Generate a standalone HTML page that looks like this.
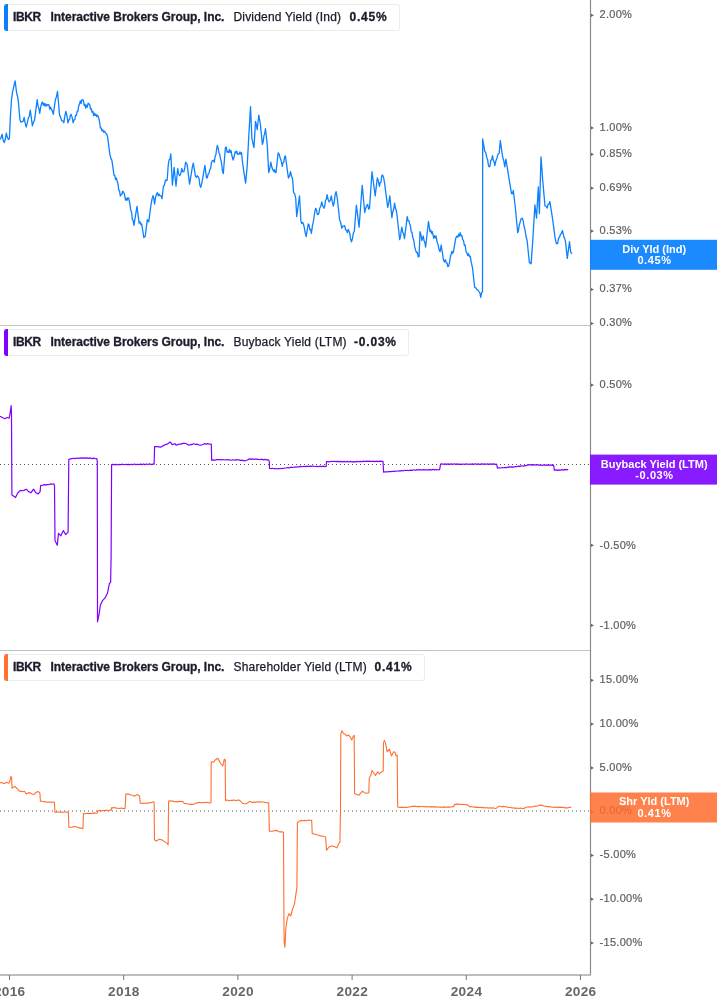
<!DOCTYPE html>
<html><head><meta charset="utf-8"><title>IBKR yields</title>
<style>
html,body{margin:0;padding:0;background:#fff;}
body{width:717px;height:1005px;position:relative;overflow:hidden;font-family:"Liberation Sans",Arial,sans-serif;}
.ch{position:absolute;left:0;top:0;}
.yl{font-family:"Liberation Sans",Arial,sans-serif;font-size:11px;fill:#5e5e5e;stroke:#5e5e5e;stroke-width:0.2px;letter-spacing:0.3px;}
.xl{font-family:"Liberation Sans",Arial,sans-serif;font-size:12.5px;font-weight:bold;fill:#666;letter-spacing:0.3px;}
.lg{position:absolute;left:4px;height:25px;border:1px solid #ececec;border-left:none;border-radius:0 3px 3px 0;background:rgba(255,255,255,0.9);font-size:12px;line-height:25px;color:#1b1b2b;white-space:nowrap;}
.lg .bar{position:absolute;left:0;top:-1px;width:4px;height:27px;border-radius:3px 0 0 3px;}
.lg span{position:absolute;top:0;}
.tk,.nm,.vl{-webkit-text-stroke:0.3px #1b1b2b;}
.tk{left:9px;font-weight:bold;letter-spacing:-0.4px;}
.nm{left:46.5px;font-weight:bold;letter-spacing:-0.05px;}
.mt{left:229.5px;letter-spacing:0.18px;-webkit-text-stroke:0.25px #1b1b2b;}
.vl{font-weight:bold;letter-spacing:0.8px;}
.lb{position:absolute;left:590px;width:127px;height:30px;color:#fff;font-weight:bold;font-size:11px;line-height:11.2px;text-align:center;padding-top:4px;padding-left:1.4px;box-sizing:border-box;}
.lb div+div{letter-spacing:0.6px;padding-left:0.6px;}
</style></head><body>
<svg class="ch" width="717" height="1005" viewBox="0 0 717 1005">
<path d="M0,325.5 H590 M0,650.5 H590" stroke="#c4c4c4" stroke-width="1" fill="none"/>
<path d="M0,464.5 H590" stroke="#555" stroke-width="1" stroke-dasharray="1 3" fill="none"/>
<path d="M0,811 H590" stroke="#555" stroke-width="1" stroke-dasharray="1 3" fill="none"/>
<path d="M0.00,139.50 L1.05,137.69 L2.10,134.30 L3.15,140.24 L4.20,142.60 L5.25,139.57 L6.30,133.20 L7.35,137.31 L8.40,139.50 L9.40,138.50 L10.50,114.40 L11.50,99.70 L12.55,92.16 L13.60,87.20 L15.10,80.90 L16.70,93.50 L17.55,96.42 L18.40,101.80 L19.90,119.60 L20.95,122.16 L22.00,121.70 L23.05,121.30 L24.10,117.50 L25.15,122.98 L26.20,127.00 L27.20,123.44 L28.20,118.60 L29.25,116.17 L30.30,110.20 L32.40,125.90 L33.45,122.09 L34.50,120.70 L37.20,99.70 L38.03,105.90 L38.87,108.16 L39.70,113.30 L40.75,106.88 L41.80,102.90 L42.60,102.06 L43.40,105.37 L44.20,103.30 L45.00,106.00 L45.77,103.89 L46.55,106.14 L47.33,104.61 L48.10,105.00 L48.90,104.69 L49.70,109.01 L50.50,107.02 L51.30,109.20 L52.30,110.90 L53.30,114.40 L55.40,99.70 L56.45,96.74 L57.50,91.40 L59.60,115.40 L60.65,117.41 L61.70,120.70 L62.75,120.84 L63.80,122.80 L64.85,115.84 L65.90,111.30 L66.95,115.76 L68.00,122.80 L68.78,119.77 L69.55,119.52 L70.32,115.59 L71.10,114.40 L72.15,117.36 L73.20,122.80 L74.00,119.94 L74.80,119.73 L75.60,115.48 L76.40,115.40 L77.18,111.15 L77.95,111.15 L78.72,105.91 L79.50,103.90 L80.28,100.86 L81.05,103.60 L81.82,99.98 L82.60,99.70 L83.40,100.73 L84.20,105.51 L85.00,104.40 L85.80,108.10 L86.58,105.14 L87.35,107.19 L88.12,103.19 L88.90,103.90 L89.70,104.46 L90.50,109.12 L91.30,108.78 L92.10,112.30 L92.88,111.24 L93.65,115.63 L94.42,113.32 L95.20,115.40 L95.97,114.25 L96.75,116.60 L97.53,115.29 L98.30,116.50 L99.35,120.53 L100.40,128.00 L101.20,127.87 L102.00,130.94 L102.80,129.78 L103.60,132.20 L104.60,131.12 L105.60,133.20 L106.65,133.76 L107.70,137.40 L109.80,154.10 L110.85,158.37 L111.90,160.40 L114.00,175.10 L114.80,175.44 L115.60,179.51 L116.40,178.06 L117.20,181.30 L117.97,183.65 L118.75,189.80 L119.53,191.04 L120.30,196.00 L121.08,194.31 L121.85,194.56 L122.62,191.27 L123.40,191.80 L124.45,194.02 L125.50,200.20 L126.30,198.24 L127.10,200.30 L127.90,197.79 L128.70,198.10 L129.75,203.05 L130.80,210.60 L131.58,212.30 L132.35,219.63 L133.12,220.27 L133.90,225.30 L137.00,206.40 L139.10,223.20 L140.00,221.80 L140.85,224.65 L141.70,223.90 L143.80,237.50 L145.20,236.40 L147.30,219.70 L148.80,221.80 L150.90,205.10 L151.95,199.42 L153.00,195.60 L153.80,198.48 L154.60,204.00 L155.65,196.87 L156.70,193.60 L157.50,192.69 L158.30,195.84 L159.10,194.12 L159.90,195.60 L160.95,195.83 L162.00,198.80 L163.40,186.20 L164.45,185.04 L165.50,180.00 L166.35,180.61 L167.20,180.00 L168.20,165.30 L169.07,159.77 L169.93,159.38 L170.80,153.80 L172.40,185.20 L174.10,167.40 L176.00,186.20 L177.70,168.50 L178.70,173.99 L179.70,175.80 L180.75,173.79 L181.80,168.50 L182.85,171.78 L183.90,171.60 L184.75,168.23 L185.60,162.20 L187.10,164.30 L189.60,184.10 L191.30,173.70 L192.30,167.06 L193.30,163.20 L195.40,175.80 L196.33,177.33 L197.27,175.79 L198.20,176.80 L199.03,178.48 L199.87,185.20 L200.70,187.30 L201.75,183.48 L202.80,177.90 L204.90,165.30 L206.50,177.90 L207.33,177.81 L208.17,173.82 L209.00,173.70 L209.80,169.45 L210.60,168.48 L211.40,162.90 L212.20,161.10 L213.25,160.18 L214.30,162.20 L215.08,156.54 L215.85,155.04 L216.62,148.96 L217.40,145.40 L218.18,147.88 L218.95,153.05 L219.72,154.18 L220.50,159.00 L221.43,162.09 L222.37,170.52 L223.30,173.70 L225.40,147.50 L226.23,147.18 L227.07,152.04 L227.90,151.70 L228.68,152.41 L229.45,149.42 L230.22,152.49 L231.00,150.70 L232.05,156.12 L233.10,160.10 L234.15,156.52 L235.20,151.70 L235.97,152.85 L236.75,151.09 L237.53,154.22 L238.30,153.80 L239.10,154.30 L239.90,151.83 L240.70,154.13 L241.50,152.80 L242.90,165.30 L245.60,183.10 L247.10,167.40 L248.80,136.00 L250.50,106.70 L251.90,138.10 L252.95,143.50 L254.00,147.50 L255.50,121.40 L256.35,124.73 L257.20,129.70 L258.80,115.10 L260.30,123.50 L262.40,144.40 L263.17,141.81 L263.95,135.71 L264.73,133.61 L265.50,128.70 L267.20,144.40 L268.70,172.60 L269.75,169.00 L270.80,162.20 L271.80,167.09 L272.80,169.50 L273.60,171.33 L274.40,169.79 L275.20,172.46 L276.00,172.60 L278.10,152.80 L279.15,154.26 L280.20,158.00 L281.25,161.01 L282.30,166.40 L283.07,162.91 L283.85,161.90 L284.62,156.67 L285.40,155.90 L288.40,178.00 L289.45,176.16 L290.50,171.70 L291.55,176.24 L292.60,179.00 L293.60,192.60 L294.65,193.80 L295.70,197.90 L296.70,216.70 L299.50,195.80 L300.90,220.90 L301.73,223.68 L302.57,222.34 L303.40,224.00 L304.33,227.57 L305.27,233.21 L306.20,236.60 L308.20,224.00 L309.00,224.74 L309.80,229.52 L310.60,229.46 L311.40,233.40 L312.45,225.60 L313.50,220.90 L314.55,213.24 L315.60,208.30 L316.43,209.49 L317.27,214.47 L318.10,214.60 L318.90,213.17 L319.70,208.30 L320.75,206.47 L321.80,202.00 L322.85,206.06 L323.90,208.30 L324.70,206.41 L325.50,200.35 L326.30,199.51 L327.10,194.70 L328.15,199.40 L329.20,202.00 L330.25,200.38 L331.30,195.80 L332.30,201.68 L333.30,206.20 L334.23,202.35 L335.17,194.51 L336.10,191.60 L337.50,200.00 L339.60,219.80 L340.65,222.17 L341.70,228.20 L342.75,226.12 L343.80,226.10 L344.70,225.70 L345.60,229.93 L346.50,230.30 L347.33,232.55 L348.17,229.33 L349.00,231.30 L349.83,233.62 L350.67,239.25 L351.50,241.80 L352.43,238.91 L353.37,232.97 L354.30,231.30 L356.40,205.20 L359.10,227.20 L362.20,185.30 L364.70,212.50 L365.75,208.20 L366.80,205.20 L367.70,204.49 L368.60,209.21 L369.50,208.30 L372.00,171.70 L375.20,195.80 L377.30,178.00 L378.35,180.80 L379.40,186.40 L380.17,182.68 L380.95,182.46 L381.73,175.81 L382.50,174.90 L383.55,177.46 L384.60,183.20 L387.70,207.30 L388.75,202.86 L389.80,195.80 L391.90,217.70 L392.80,211.70 L393.70,209.05 L394.60,203.10 L395.47,208.52 L396.33,210.62 L397.20,216.70 L399.70,239.70 L400.75,234.66 L401.80,227.20 L402.70,231.91 L403.60,234.12 L404.50,238.70 L407.20,216.70 L408.03,220.67 L408.87,220.55 L409.70,224.00 L410.48,226.10 L411.25,231.86 L412.02,232.38 L412.80,237.60 L413.73,239.94 L414.67,246.63 L415.60,250.20 L416.48,252.63 L417.35,252.24 L418.23,256.83 L419.10,256.40 L420.00,231.60 L420.90,234.35 L421.80,240.50 L423.30,236.00 L424.07,240.81 L424.83,242.57 L425.60,247.20 L428.50,221.50 L430.00,231.60 L430.77,230.06 L431.53,233.37 L432.30,231.60 L433.80,238.30 L434.57,235.63 L435.33,237.85 L436.10,236.00 L437.00,241.79 L437.90,243.90 L439.00,249.36 L440.10,251.70 L441.20,245.00 L443.40,259.50 L444.37,261.88 L445.33,259.72 L446.30,262.80 L447.07,263.00 L447.83,266.68 L448.60,266.20 L449.47,262.82 L450.33,257.16 L451.20,253.90 L451.97,251.29 L452.73,253.33 L453.50,251.70 L455.70,238.30 L456.80,236.09 L457.90,237.20 L458.67,234.26 L459.43,235.98 L460.20,232.70 L461.02,235.77 L461.85,235.52 L462.68,239.56 L463.50,240.50 L464.35,245.39 L465.20,245.20 L466.05,251.66 L466.90,252.80 L467.72,255.47 L468.55,253.66 L469.38,256.65 L470.20,256.10 L471.30,262.45 L472.40,267.30 L474.70,287.40 L475.80,287.85 L476.90,289.60 L478.00,290.00 L479.10,291.80 L479.90,292.79 L480.70,297.40 L481.60,292.90 L482.50,291.80 L482.70,139.00 L484.70,151.20 L485.80,152.79 L486.90,157.90 L487.67,159.82 L488.43,165.36 L489.20,166.90 L490.02,165.79 L490.85,160.17 L491.68,159.90 L492.50,155.70 L493.27,159.95 L494.03,161.65 L494.80,165.70 L495.90,160.83 L497.00,157.90 L498.10,153.85 L499.20,153.50 L500.30,140.50 L502.60,156.80 L503.70,160.46 L504.80,166.90 L505.90,159.10 L509.30,180.30 L511.50,193.60 L512.40,193.85 L513.30,190.30 L515.50,209.30 L517.70,232.70 L518.47,230.61 L519.23,225.05 L520.00,222.70 L521.10,218.75 L522.20,218.20 L523.10,220.17 L524.00,226.28 L524.90,229.40 L526.00,236.49 L527.10,240.50 L529.40,262.80 L530.25,262.62 L531.10,263.90 L532.70,241.60 L534.90,204.80 L536.50,218.20 L538.30,187.00 L539.40,213.70 L541.00,156.80 L542.70,180.30 L545.00,205.90 L546.10,206.24 L547.20,208.10 L548.10,204.06 L549.00,204.36 L549.90,201.50 L552.80,220.40 L555.00,237.20 L555.80,241.49 L556.60,243.90 L557.57,243.65 L558.53,238.24 L559.50,237.20 L560.47,234.20 L561.43,233.57 L562.40,230.50 L563.90,237.20 L564.70,238.46 L565.50,241.60 L567.30,258.40 L569.50,241.60 L570.60,251.70 L571.80,253.90" stroke="#0d80ff" stroke-width="1.3" fill="none" stroke-linejoin="round"/>
<path d="M0.00,416.30 L2.40,417.50 L4.80,418.70 L7.20,417.50 L9.10,418.20 L10.00,413.90 L11.20,405.50 L11.50,416.30 L11.90,495.10 L13.90,496.30 L15.50,497.50 L17.90,492.70 L20.30,490.40 L22.10,490.74 L23.90,490.40 L26.30,489.20 L28.70,491.60 L31.10,492.70 L33.50,489.20 L35.80,492.70 L38.20,493.90 L40.10,491.60 L40.60,485.60 L43.00,485.10 L44.60,484.60 L46.20,484.89 L47.80,484.60 L49.30,484.50 L50.80,483.84 L52.30,484.21 L53.80,483.70 L54.50,485.60 L55.00,540.50 L56.20,542.90 L57.30,545.30 L58.50,533.40 L60.90,535.80 L63.30,530.50 L65.70,534.60 L68.10,532.20 L68.80,459.30 L71.70,458.60 L73.40,458.23 L75.10,458.58 L76.80,458.05 L78.50,458.45 L80.20,457.85 L81.90,458.14 L83.60,457.90 L85.25,458.20 L86.90,457.87 L88.55,458.44 L90.20,457.90 L91.85,458.68 L93.50,458.19 L95.15,458.73 L96.80,458.60 L97.30,461.70 L97.50,621.80 L99.20,613.40 L100.40,605.00 L102.70,600.30 L105.10,597.90 L107.50,593.10 L109.40,583.50 L110.60,582.40 L111.10,557.30 L111.60,464.60 L113.12,464.41 L114.64,464.69 L116.15,464.45 L117.67,464.76 L119.19,464.35 L120.71,464.71 L122.22,464.18 L123.74,464.72 L125.26,464.23 L126.78,464.62 L128.30,464.33 L129.81,464.61 L131.33,464.28 L132.85,464.63 L134.37,464.04 L135.89,464.64 L137.40,464.21 L138.92,464.67 L140.44,464.03 L141.96,464.60 L143.47,463.97 L144.99,464.58 L146.51,463.97 L148.03,464.45 L149.55,463.90 L151.06,464.57 L152.58,464.07 L154.10,464.20 L154.60,446.60 L157.60,446.60 L160.50,447.20 L163.40,445.60 L165.35,444.56 L167.30,444.10 L170.30,442.10 L172.20,444.60 L175.10,443.70 L176.10,445.20 L179.10,444.10 L181.03,444.11 L182.97,443.35 L184.90,443.30 L186.85,444.02 L188.80,445.20 L190.43,444.47 L192.07,444.53 L193.70,443.70 L195.40,444.30 L197.10,444.14 L198.80,445.02 L200.50,445.20 L202.45,444.77 L204.40,443.70 L206.12,444.13 L207.85,443.68 L209.58,444.24 L211.30,444.10 L211.70,460.30 L213.30,459.82 L214.90,460.28 L216.50,459.63 L218.10,459.70 L219.73,459.57 L221.37,459.95 L223.00,459.52 L224.63,459.98 L226.27,459.54 L227.90,459.90 L229.52,459.73 L231.13,460.23 L232.75,459.72 L234.37,460.24 L235.98,459.62 L237.60,459.90 L239.16,459.83 L240.72,460.45 L242.28,460.12 L243.84,460.79 L245.40,460.70 L247.40,459.98 L249.40,458.90 L250.96,459.14 L252.52,458.83 L254.08,459.47 L255.64,458.96 L257.20,459.30 L258.73,459.23 L260.26,459.72 L261.79,459.19 L263.31,459.86 L264.84,459.43 L266.37,459.93 L267.90,459.70 L269.30,461.20 L269.50,468.50 L271.00,468.65 L272.50,468.29 L274.00,468.76 L275.50,468.45 L277.00,468.96 L278.50,468.54 L280.00,468.70 L281.53,468.23 L283.07,468.55 L284.60,468.00 L286.18,468.01 L287.75,467.54 L289.32,467.87 L290.90,467.19 L292.48,467.53 L294.05,466.99 L295.62,467.14 L297.20,466.80 L298.82,466.89 L300.44,466.42 L302.07,466.76 L303.69,466.24 L305.31,466.63 L306.93,466.18 L308.56,466.52 L310.18,466.19 L311.80,466.30 L313.39,466.02 L314.98,466.49 L316.57,466.22 L318.16,466.66 L319.74,466.21 L321.33,466.55 L322.92,466.11 L324.51,466.62 L326.10,466.50 L326.50,461.70 L328.07,461.54 L329.65,461.79 L331.23,461.29 L332.80,461.50 L334.41,461.23 L336.02,461.66 L337.62,461.36 L339.23,461.67 L340.84,461.36 L342.45,461.88 L344.05,461.32 L345.66,461.95 L347.27,461.35 L348.88,461.97 L350.48,461.39 L352.09,461.91 L353.70,461.70 L355.32,461.82 L356.94,461.34 L358.57,461.75 L360.19,461.39 L361.81,461.69 L363.43,461.11 L365.06,461.53 L366.68,461.10 L368.30,461.30 L369.93,461.10 L371.57,461.53 L373.20,461.16 L374.83,461.64 L376.47,461.13 L378.10,461.55 L379.73,461.09 L381.37,461.41 L383.00,461.30 L383.60,472.20 L385.40,471.76 L387.20,471.80 L388.86,471.54 L390.52,471.68 L392.18,471.33 L393.84,471.46 L395.50,471.20 L397.00,471.23 L398.50,470.74 L400.00,471.13 L401.50,470.45 L403.00,471.03 L404.50,470.25 L406.00,470.50 L407.56,470.25 L409.11,470.54 L410.67,470.07 L412.22,470.39 L413.78,469.80 L415.33,470.27 L416.89,469.60 L418.44,469.96 L420.00,469.70 L421.70,469.98 L423.40,469.60 L425.10,469.90 L426.71,469.76 L428.32,469.95 L429.93,469.59 L431.54,469.90 L433.16,469.45 L434.77,469.86 L436.38,469.54 L437.99,469.78 L439.60,469.60 L440.60,464.10 L442.11,463.94 L443.62,464.26 L445.12,463.87 L446.63,464.32 L448.14,463.92 L449.65,464.36 L451.15,463.94 L452.66,464.43 L454.17,463.76 L455.68,464.38 L457.18,463.89 L458.69,464.33 L460.20,464.10 L461.72,464.35 L463.23,463.98 L464.75,464.31 L466.27,463.87 L467.78,464.25 L469.30,463.97 L470.82,464.40 L472.33,463.91 L473.85,464.33 L475.37,463.77 L476.88,464.35 L478.40,463.92 L479.92,464.45 L481.43,463.90 L482.95,464.21 L484.47,463.83 L485.98,464.23 L487.50,463.92 L489.02,464.41 L490.53,463.83 L492.05,464.21 L493.57,463.88 L495.08,464.31 L496.60,464.10 L497.40,468.10 L499.02,467.75 L500.65,468.01 L502.27,467.48 L503.90,467.72 L505.52,467.30 L507.15,467.55 L508.77,466.89 L510.40,467.10 L512.03,466.83 L513.66,467.09 L515.29,466.50 L516.92,466.75 L518.55,466.15 L520.18,466.42 L521.81,465.76 L523.44,466.10 L525.07,465.62 L526.70,465.60 L528.00,464.60 L529.58,464.80 L531.15,464.60 L532.73,465.10 L534.30,464.59 L535.88,465.25 L537.45,464.70 L539.02,465.15 L540.60,465.10 L542.23,465.37 L543.85,464.80 L545.48,465.38 L547.10,464.87 L548.73,465.29 L550.35,464.88 L551.98,465.40 L553.60,465.10 L554.40,470.10 L555.95,469.93 L557.50,470.33 L559.05,469.88 L560.60,470.10 L562.12,469.62 L563.64,470.12 L565.16,469.35 L566.68,469.85 L568.20,469.40" stroke="#8000ff" stroke-width="1.2" fill="none" stroke-linejoin="round"/>
<path d="M0.00,782.80 L1.80,782.60 L3.60,783.50 L5.40,783.10 L6.90,782.20 L8.20,783.10 L9.40,782.80 L10.90,776.40 L11.60,777.70 L12.00,788.20 L13.60,787.10 L14.90,786.40 L17.20,788.60 L19.60,791.30 L21.15,791.34 L22.70,791.70 L24.50,791.30 L26.30,794.00 L28.10,793.10 L29.90,792.60 L32.60,794.40 L34.50,794.00 L36.30,792.20 L38.10,791.50 L39.90,793.10 L40.40,801.30 L41.95,801.31 L43.50,801.80 L45.33,801.67 L47.17,802.19 L49.00,802.00 L50.80,802.32 L52.60,802.01 L54.40,802.20 L54.90,812.10 L56.60,812.21 L58.30,811.79 L60.00,812.27 L61.70,812.10 L63.38,812.26 L65.05,811.75 L66.73,812.32 L68.40,812.10 L68.90,827.20 L71.60,827.20 L74.30,826.60 L76.15,826.79 L78.00,827.60 L80.70,828.10 L83.00,828.50 L83.40,813.60 L85.23,813.77 L87.05,813.24 L88.88,813.59 L90.70,813.40 L92.38,813.56 L94.05,812.88 L95.73,813.33 L97.40,813.00 L97.90,810.70 L99.73,810.36 L101.55,810.87 L103.38,810.43 L105.20,810.50 L106.70,810.16 L108.20,810.65 L109.70,810.17 L111.20,810.30 L111.70,807.60 L113.25,807.86 L114.80,807.58 L116.35,808.27 L117.90,808.20 L119.70,808.53 L121.50,807.98 L123.30,808.63 L125.10,808.40 L125.80,794.40 L128.20,793.90 L130.90,795.00 L132.70,795.27 L134.50,796.20 L137.20,794.40 L139.60,796.20 L140.30,803.10 L142.00,803.44 L143.70,803.07 L145.40,803.50 L146.90,802.99 L148.40,803.23 L149.90,802.60 L151.70,802.47 L153.50,801.70 L154.10,802.60 L154.50,839.80 L156.30,841.00 L159.00,839.40 L161.70,839.80 L164.40,841.60 L165.95,842.63 L167.50,843.40 L168.10,845.20 L168.60,801.10 L170.80,800.80 L172.60,801.11 L174.40,801.70 L176.04,801.46 L177.68,801.88 L179.32,801.25 L180.96,801.64 L182.60,801.30 L184.40,803.50 L185.90,803.49 L187.40,804.06 L188.90,804.00 L190.70,804.40 L192.50,804.40 L194.33,803.99 L196.17,802.95 L198.00,802.60 L199.80,802.35 L201.60,802.93 L203.40,802.33 L205.20,802.60 L207.13,802.27 L209.07,802.91 L211.00,802.60 L211.20,761.80 L213.40,762.30 L215.20,760.00 L217.90,758.20 L220.60,763.60 L222.80,766.00 L224.30,759.10 L225.20,760.00 L225.50,800.40 L227.22,800.05 L228.95,800.67 L230.68,800.26 L232.40,800.40 L234.22,800.08 L236.05,800.74 L237.88,800.07 L239.70,800.40 L242.40,803.20 L244.20,803.69 L246.00,803.70 L247.80,802.78 L249.60,801.30 L252.00,802.50 L253.57,802.11 L255.13,802.34 L256.70,801.80 L258.50,802.10 L260.30,801.73 L262.10,802.07 L263.90,802.00 L265.50,802.71 L267.10,802.45 L268.70,803.20 L269.40,831.20 L272.30,831.20 L274.10,830.67 L275.90,830.40 L277.65,830.85 L279.40,831.90 L281.00,831.69 L282.60,831.90 L283.50,832.40 L284.00,930.40 L284.20,942.30 L284.90,947.10 L285.90,928.00 L287.30,918.40 L289.00,913.60 L290.70,916.00 L292.60,908.90 L294.50,904.10 L296.20,892.10 L296.90,887.30 L297.40,822.80 L299.80,820.90 L301.37,820.59 L302.93,820.74 L304.50,820.40 L306.30,820.69 L308.10,820.08 L309.90,820.52 L311.70,820.40 L312.20,833.60 L314.35,833.94 L316.50,834.80 L318.10,835.05 L319.70,835.81 L321.30,835.90 L323.45,836.49 L325.60,836.70 L326.50,850.30 L328.05,848.18 L329.60,846.70 L331.40,846.10 L333.20,846.20 L335.00,846.82 L336.80,847.90 L339.20,843.10 L339.90,842.40 L340.50,810.30 L340.80,734.20 L342.00,730.80 L343.30,733.30 L345.00,734.20 L346.70,735.90 L348.40,735.00 L350.00,736.70 L351.70,740.00 L353.40,735.90 L354.20,735.40 L354.60,793.60 L356.70,794.40 L358.70,795.30 L360.90,792.80 L362.60,791.10 L364.30,792.80 L366.80,793.30 L368.80,792.80 L369.30,777.70 L370.50,776.00 L372.10,770.50 L374.30,773.80 L375.50,775.50 L377.70,771.80 L379.30,773.80 L381.00,772.20 L383.20,771.00 L383.50,742.60 L384.40,740.40 L385.50,743.40 L387.20,751.80 L389.40,749.20 L391.50,755.90 L393.60,751.80 L395.20,752.60 L396.10,755.90 L397.20,755.10 L397.70,807.00 L399.67,807.52 L401.63,807.15 L403.60,807.50 L405.28,807.25 L406.95,807.50 L408.62,807.01 L410.30,807.00 L412.00,806.20 L413.67,806.42 L415.34,806.14 L417.01,806.67 L418.69,806.34 L420.36,806.67 L422.03,806.31 L423.70,806.70 L425.22,806.55 L426.74,807.09 L428.25,806.46 L429.77,807.01 L431.29,806.62 L432.81,807.10 L434.33,806.63 L435.85,807.17 L437.36,806.70 L438.88,807.23 L440.40,807.00 L442.37,807.40 L444.33,806.90 L446.30,807.20 L448.12,806.86 L449.95,807.23 L451.78,806.66 L453.60,806.70 L454.60,804.20 L456.18,804.38 L457.75,803.86 L459.32,804.43 L460.90,804.20 L462.47,804.54 L464.05,804.29 L465.62,804.71 L467.20,804.60 L469.30,806.70 L470.86,806.57 L472.43,807.03 L473.99,806.78 L475.55,807.41 L477.11,807.14 L478.68,807.63 L480.24,807.27 L481.80,807.60 L483.43,807.40 L485.07,807.92 L486.70,807.52 L488.33,808.15 L489.97,807.82 L491.60,808.12 L493.23,807.80 L494.87,808.47 L496.50,808.20 L498.60,806.30 L500.18,806.23 L501.75,806.72 L503.32,806.35 L504.90,806.70 L506.73,806.84 L508.55,807.54 L510.38,807.49 L512.20,808.00 L513.84,807.86 L515.49,808.37 L517.13,807.99 L518.77,808.43 L520.41,807.99 L522.06,808.45 L523.70,808.40 L526.20,807.20 L528.13,806.79 L530.07,807.15 L532.00,806.70 L533.58,806.63 L535.15,806.04 L536.72,806.25 L538.30,805.70 L540.40,805.10 L542.50,805.54 L544.60,806.30 L546.28,806.33 L547.96,806.87 L549.64,806.56 L551.32,807.15 L553.00,807.20 L554.66,807.42 L556.32,807.09 L557.98,807.63 L559.64,807.15 L561.30,807.40 L562.88,807.24 L564.45,807.85 L566.02,807.66 L567.60,808.00 L569.50,807.34 L571.40,807.20" stroke="#ff6f30" stroke-width="1.1" fill="none" stroke-linejoin="round"/>
<path d="M590.5,0 V975" stroke="#8a8a8a" stroke-width="1.2" fill="none"/>
<path d="M0,975 H591" stroke="#a8a8a8" stroke-width="1.6" fill="none"/>
<path d="M9.5,975 V980" stroke="#777" stroke-width="1" fill="none"/>
<path d="M123.7,975 V980" stroke="#777" stroke-width="1" fill="none"/>
<path d="M237.9,975 V980" stroke="#777" stroke-width="1" fill="none"/>
<path d="M352.1,975 V980" stroke="#777" stroke-width="1" fill="none"/>
<path d="M466.3,975 V980" stroke="#777" stroke-width="1" fill="none"/>
<path d="M580.5,975 V980" stroke="#777" stroke-width="1" fill="none"/>
<path d="M591,13.7 L594,15.3 L591,16.9 Z" fill="#666"/>
<text x="599.5" y="18.1" class="yl">2.00%</text>
<path d="M591,126.3 L594,127.9 L591,129.5 Z" fill="#666"/>
<text x="599.5" y="130.7" class="yl">1.00%</text>
<path d="M591,152.7 L594,154.3 L591,155.9 Z" fill="#666"/>
<text x="599.5" y="157.1" class="yl">0.85%</text>
<path d="M591,186.6 L594,188.2 L591,189.8 Z" fill="#666"/>
<text x="599.5" y="191.0" class="yl">0.69%</text>
<path d="M591,229.5 L594,231.1 L591,232.7 Z" fill="#666"/>
<text x="599.5" y="233.9" class="yl">0.53%</text>
<path d="M591,287.9 L594,289.5 L591,291.1 Z" fill="#666"/>
<text x="599.5" y="292.3" class="yl">0.37%</text>
<path d="M591,321.9 L594,323.5 L591,325.1 Z" fill="#666"/>
<text x="599.5" y="326.3" class="yl">0.30%</text>
<path d="M591,383.5 L594,385.1 L591,386.7 Z" fill="#666"/>
<text x="599.5" y="388.3" class="yl">0.50%</text>
<path d="M591,463.6 L594,465.2 L591,466.8 Z" fill="#666"/>
<text x="599.5" y="468.4" class="yl">0.00%</text>
<path d="M591,543.7 L594,545.3 L591,546.9 Z" fill="#666"/>
<text x="599.5" y="548.5" class="yl">-0.50%</text>
<path d="M591,623.8 L594,625.4 L591,627.0 Z" fill="#666"/>
<text x="599.5" y="628.6" class="yl">-1.00%</text>
<path d="M591,678.7 L594,680.3 L591,681.9 Z" fill="#666"/>
<text x="599.5" y="683.1" class="yl">15.00%</text>
<path d="M591,722.5 L594,724.1 L591,725.7 Z" fill="#666"/>
<text x="599.5" y="726.9" class="yl">10.00%</text>
<path d="M591,766.3 L594,767.9 L591,769.5 Z" fill="#666"/>
<text x="599.5" y="770.7" class="yl">5.00%</text>
<path d="M591,810.0 L594,811.6 L591,813.2 Z" fill="#666"/>
<text x="599.5" y="814.4" class="yl">0.00%</text>
<path d="M591,853.8 L594,855.4 L591,857.0 Z" fill="#666"/>
<text x="599.5" y="858.2" class="yl">-5.00%</text>
<path d="M591,897.6 L594,899.2 L591,900.8 Z" fill="#666"/>
<text x="599.5" y="902.0" class="yl">-10.00%</text>
<path d="M591,941.4 L594,943.0 L591,944.6 Z" fill="#666"/>
<text x="599.5" y="945.8" class="yl">-15.00%</text>
<text transform="translate(9.7,996) scale(1.09,1)" x="0" y="0" class="xl" text-anchor="middle">2016</text>
<text transform="translate(123.9,996) scale(1.09,1)" x="0" y="0" class="xl" text-anchor="middle">2018</text>
<text transform="translate(238.1,996) scale(1.09,1)" x="0" y="0" class="xl" text-anchor="middle">2020</text>
<text transform="translate(352.3,996) scale(1.09,1)" x="0" y="0" class="xl" text-anchor="middle">2022</text>
<text transform="translate(466.5,996) scale(1.09,1)" x="0" y="0" class="xl" text-anchor="middle">2024</text>
<text transform="translate(580.7,996) scale(1.09,1)" x="0" y="0" class="xl" text-anchor="middle">2026</text>
<rect x="590" y="239.8" width="127" height="30" fill="#0f84ff" fill-opacity="0.95"/>
<rect x="590" y="454.6" width="127" height="30" fill="#820fff" fill-opacity="0.95"/>
<rect x="590" y="792.5" width="127" height="30" fill="#ff6b2b" fill-opacity="0.85"/>
</svg>
<div class="lg" style="top:4px;width:395px"><div class="bar" style="background:#0b80ff"></div><span class="tk">IBKR</span><span class="nm">Interactive Brokers Group, Inc.</span><span class="mt">Dividend Yield (Ind)</span><span class="vl" style="left:345.5px">0.45%</span></div>
<div class="lg" style="top:329px;width:404px"><div class="bar" style="background:#7f00ff"></div><span class="tk">IBKR</span><span class="nm">Interactive Brokers Group, Inc.</span><span class="mt">Buyback Yield (LTM)</span><span class="vl" style="left:350px">-0.03%</span></div>
<div class="lg" style="top:654px;width:420px"><div class="bar" style="background:#ff7230"></div><span class="tk">IBKR</span><span class="nm">Interactive Brokers Group, Inc.</span><span class="mt">Shareholder Yield (LTM)</span><span class="vl" style="left:370.5px">0.41%</span></div>
<div class="lb" style="top:240px"><div>Div Yld (Ind)</div><div>0.45%</div></div>
<div class="lb" style="top:454.6px"><div>Buyback Yield (LTM)</div><div>-0.03%</div></div>
<div class="lb" style="top:792.4px"><div>Shr Yld (LTM)</div><div>0.41%</div></div>
</body></html>
